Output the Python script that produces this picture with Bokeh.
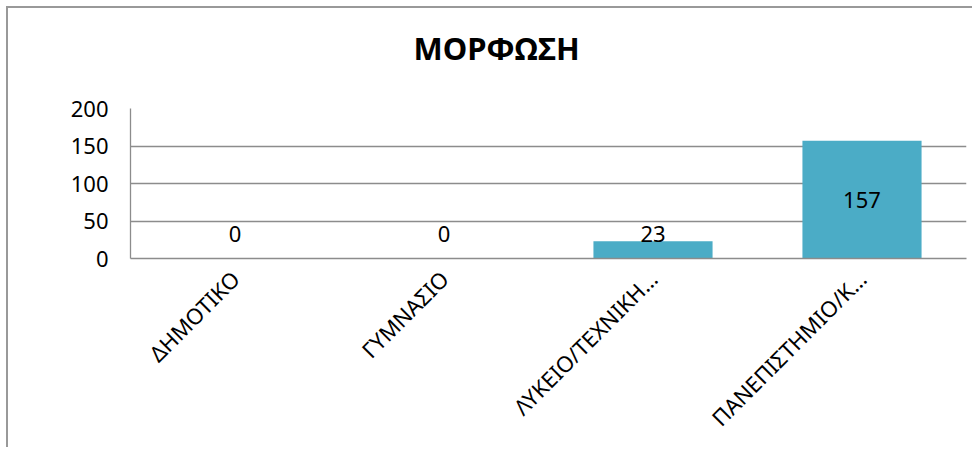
import math
from bokeh.plotting import figure
from bokeh.models import ColumnDataSource, FactorRange, Range1d, FixedTicker, Title
from bokeh.core.properties import value
from bokeh.embed import file_html
from bokeh.resources import INLINE

# ---- data ----
categories = ["ΔΗΜΟΤΙΚΟ", "ΓΥΜΝΑΣΙΟ", "ΛΥΚΕΙΟ/ΤΕΧΝΙΚΗ…", "ΠΑΝΕΠΙΣΤΗΜΙΟ/Κ…"]
counts = [0, 0, 23, 157]
y_ticks = [0, 50, 100, 150, 200]
title_text = "ΜΟΡΦΩΣΗ"

FONT = "Noto Sans"
BAR = "#4BACC6"
GRID = "#8c8c8c"

W, H = 966, 441

label_floor = 33  # data labels of short bars sit above this level
label_y = [max(v / 2, label_floor) for v in counts]

src = ColumnDataSource(dict(cat=categories, val=counts, ly=label_y,
                            txt=[str(v) for v in counts]))

p = figure(x_range=FactorRange(*categories, range_padding=0),
           y_range=Range1d(0, 200),
           width=W, height=H,
           output_backend="svg", toolbar_location=None,
           min_border_left=122, min_border_right=8,
           min_border_top=100, min_border_bottom=191)

p.styles = {"border-left": "2px solid #999999", "border-top": "2px solid #999999",
            "margin-left": "6px", "margin-top": "6px"}

# spacer panel between the frame and the title (blank), then the title itself
spacer = Title(text=" ", text_font_size="2px", standoff=36)
p.add_layout(spacer, "above")
p.add_layout(Title(text=title_text, align="left", offset=283, standoff=0,
                   text_font=FONT, text_font_size="31px", text_font_style="bold",
                   text_color="black"), "above")

p.vbar(x="cat", top="val", width=0.57, source=src, color=BAR, line_color=None)
p.text(x="cat", y="ly", text="txt", source=src, text_font=value(FONT),
       text_font_size="22px", text_align="center", text_baseline="middle",
       text_color="black")

p.outline_line_color = None
p.xgrid.grid_line_color = None
p.ygrid.grid_line_color = GRID
p.ygrid.grid_line_width = 1.3
p.yaxis.ticker = FixedTicker(ticks=y_ticks)

for ax in (p.xaxis, p.yaxis):
    ax.axis_line_color = GRID
    ax.axis_line_width = 1.3
    ax.major_tick_line_color = None
    ax.minor_tick_line_color = None
    ax.major_tick_out = 0
    ax.minor_tick_out = 0
    ax.major_label_text_font = FONT
    ax.major_label_text_font_size = "22px"
    ax.major_label_text_color = "black"

p.yaxis.major_label_standoff = 22
p.xaxis.major_label_standoff = 16
p.xaxis.major_label_orientation = math.pi / 4

p.background_fill_color = "white"
p.border_fill_color = "white"

open("out.html", "w").write(file_html(p, INLINE))
